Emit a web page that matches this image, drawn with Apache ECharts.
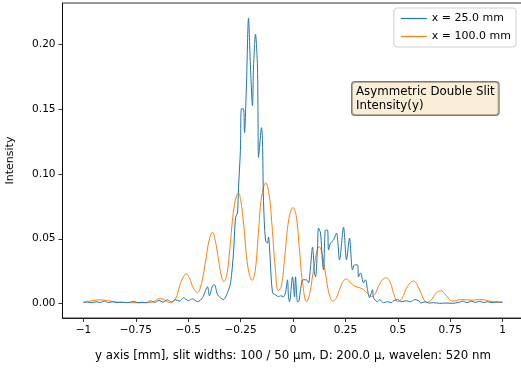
<!DOCTYPE html>
<html>
<head>
<meta charset="utf-8">
<script src="https://cdn.jsdelivr.net/npm/echarts@6/dist/echarts.min.js"></script>
<style>html,body{margin:0;padding:0;background:#fff;}#c{width:521px;height:370px;}</style>
</head>
<body>
<div id="c"></div>
<script>
const seriesNames = ['x = 25.0 mm', 'x = 100.0 mm'];
const xTicks = [-1, -0.75, -0.5, -0.25, 0, 0.25, 0.5, 0.75, 1];
const yTicks = [0, 0.05, 0.1, 0.15, 0.2];
const xLabel = 'y axis [mm], slit widths: 100 / 50 μm, D: 200.0 μ, wavelen: 520 nm';
const yLabel = 'Intensity';
const boxText = 'Asymmetric Double Slit\nIntensity(y)';

const blueX = [-1.00,-0.98,-0.96,-0.94,-0.92,-0.90,-0.88,-0.86,-0.84,-0.82,-0.80,-0.78,-0.76,-0.74,-0.72,-0.70,-0.68,-0.66,-0.64,-0.62,-0.60,-0.58,-0.56,-0.54,-0.523,-0.499,-0.480,-0.456,-0.432,-0.408,-0.399,-0.384,-0.375,-0.360,-0.346,-0.332,-0.313,-0.298,-0.284,-0.274,-0.265,-0.260,-0.251,-0.246,-0.2363,-0.2315,-0.2220,-0.2124,-0.2029,-0.1933,-0.1885,-0.1790,-0.1695,-0.1647,-0.1599,-0.1504,-0.1456,-0.1408,-0.1313,-0.1217,-0.1169,-0.1122,-0.0979,-0.0835,-0.0692,-0.0597,-0.0453,-0.0358,-0.0263,-0.0215,-0.0167,-0.0024,0.0072,0.0119,0.0215,0.0263,0.0358,0.0453,0.0501,0.0644,0.0740,0.0835,0.0931,0.1026,0.1074,0.1169,0.1217,0.1313,0.1408,0.1456,0.1551,0.1647,0.1695,0.1790,0.1933,0.2076,0.2220,0.2411,0.2554,0.2697,0.2840,0.2936,0.3079,0.3126,0.3222,0.3365,0.3461,0.3556,0.3652,0.3795,0.3842,0.4033,0.4129,0.4320,0.45,0.47,0.48,0.50,0.52,0.54,0.56,0.58,0.60,0.61,0.63,0.65,0.67,0.70,0.73,0.76,0.79,0.81,0.83,0.85,0.87,0.89,0.91,0.93,0.95,0.97,1.00];
const blueY = [0.0008,0.0012,0.0008,0.0015,0.0010,0.0020,0.0008,0.0015,0.0008,0.0012,0.0008,0.0010,0.0018,0.0008,0.0012,0.0008,0.0022,0.0010,0.0025,0.0012,0.0030,0.0015,0.0030,0.0020,0.0046,0.0023,0.0038,0.0015,0.0046,0.0130,0.0061,0.0138,0.0145,0.0069,0.0046,0.0031,0.0084,0.0161,0.0391,0.0666,0.0697,0.0896,0.1179,0.1501,0.1501,0.1317,0.1692,0.2198,0.1815,0.1524,0.1815,0.2075,0.1815,0.1126,0.1202,0.1355,0.1256,0.0796,0.0490,0.0467,0.0513,0.0436,0.0084,0.0069,0.0054,0.0061,0.0054,0.0084,0.0184,0.0054,0.0015,0.0207,0.0054,0.0207,0.0015,0.0015,0.0107,0.0184,0.0184,0.0184,0.0161,0.0283,0.0436,0.0237,0.0207,0.0429,0.0582,0.0544,0.0314,0.0260,0.0567,0.0567,0.0413,0.0467,0.0490,0.0544,0.0337,0.0590,0.0337,0.0505,0.0260,0.0299,0.0299,0.0207,0.0237,0.0161,0.0184,0.0107,0.0046,0.0107,0.0046,0.0015,0.0031,0.0008,0.0015,0.0008,0.0023,0.0031,0.0015,0.0023,0.0015,0.0031,0.0023,0.0005,0.0015,0.0005,0.0008,0.0003,0.0005,0.0003,0.0010,0.0020,0.0008,0.0020,0.0010,0.0018,0.0010,0.0015,0.0008,0.0015,0.0008];

const orangeX = [-1.00,-0.97,-0.94,-0.92,-0.90,-0.87,-0.84,-0.80,-0.76,-0.72,-0.69,-0.66,-0.64,-0.62,-0.60,-0.585,-0.56,-0.54,-0.525,-0.51,-0.495,-0.475,-0.456,-0.435,-0.415,-0.40,-0.385,-0.37,-0.355,-0.34,-0.33,-0.315,-0.30,-0.285,-0.27,-0.26,-0.25,-0.235,-0.215,-0.195,-0.18,-0.165,-0.15,-0.13,-0.115,-0.10,-0.085,-0.07,-0.055,-0.04,-0.02,0.00,0.015,0.03,0.045,0.065,0.08,0.10,0.125,0.14,0.16,0.175,0.19,0.205,0.225,0.24,0.255,0.275,0.295,0.315,0.335,0.355,0.375,0.39,0.41,0.43,0.445,0.465,0.48,0.50,0.52,0.545,0.575,0.60,0.625,0.64,0.66,0.685,0.705,0.73,0.76,0.78,0.80,0.83,0.86,0.89,0.92,0.95,0.98,1.00];
const orangeY = [0.0015,0.0020,0.0028,0.0030,0.0028,0.0020,0.0012,0.0010,0.0008,0.0007,0.0008,0.0020,0.0038,0.0035,0.0015,0.0008,0.0040,0.0140,0.0200,0.0230,0.0200,0.0120,0.0085,0.0170,0.0350,0.0490,0.0550,0.0480,0.0330,0.0200,0.0170,0.0230,0.0450,0.0700,0.0830,0.0850,0.0800,0.0600,0.0280,0.0180,0.0260,0.0550,0.0820,0.0930,0.0850,0.0600,0.0280,0.0100,0.0140,0.0350,0.0650,0.0740,0.0680,0.0430,0.0170,0.0015,0.0080,0.0280,0.0440,0.0380,0.0180,0.0060,0.0020,0.0040,0.0120,0.0175,0.0190,0.0160,0.0135,0.0125,0.0110,0.0080,0.0055,0.0070,0.0140,0.0190,0.0200,0.0160,0.0080,0.0015,0.0040,0.0130,0.0175,0.0120,0.0030,0.0010,0.0030,0.0085,0.0100,0.0065,0.0020,0.0025,0.0032,0.0030,0.0028,0.0032,0.0028,0.0015,0.0010,0.0015];

const zip = (xs, ys) => xs.map((x, i) => [x, ys[i]]);
const FONT = 'DejaVu Sans';
const fmtX = v => { const s = (Math.round(v * 100) / 100).toString(); return s.replace('-', '\u2212'); };

const chart = echarts.init(document.getElementById('c'), null, {renderer: 'canvas'});
chart.setOption({
  animation: false,
  backgroundColor: '#ffffff',
  textStyle: {fontFamily: FONT},
  grid: {left: 62.5, top: 3, width: 461, height: 315, show: false, containLabel: false, outerBoundsMode: 'none'},
  legend: {
    orient: 'vertical', right: 5, top: 8,
    data: seriesNames,
    icon: 'rect',
    itemWidth: 26, itemHeight: 1.2, itemGap: 5, itemTextGap: 8,
    padding: [4, 5, 4, 7],
    borderColor: '#d0d0d0', borderWidth: 1, borderRadius: 3,
    backgroundColor: 'rgba(255,255,255,0.8)',
    textStyle: {fontFamily: FONT, fontSize: 11, lineHeight: 13, color: '#000'}
  },
  xAxis: {
    type: 'value', min: -1.1, max: 1.1,
    name: xLabel, nameLocation: 'middle', nameGap: 32,
    nameTextStyle: {fontFamily: FONT, fontSize: 11.8, color: '#000'},
    axisLine: {show: true, onZero: false, lineStyle: {color: '#000', width: 0.8}},
    axisTick: {show: true, length: 4, lineStyle: {color: '#000', width: 0.8}, customValues: xTicks},
    axisLabel: {customValues: xTicks, formatter: fmtX, color: '#000', fontFamily: FONT, fontSize: 10.5, margin: 7},
    splitLine: {show: false}
  },
  yAxis: {
    type: 'value', min: -0.011, max: 0.2315,
    name: yLabel, nameLocation: 'middle', nameGap: 47, nameRotate: 90,
    nameTextStyle: {fontFamily: FONT, fontSize: 11, color: '#000'},
    axisLine: {show: true, onZero: false, lineStyle: {color: '#000', width: 0.8}},
    axisTick: {show: true, length: 4, lineStyle: {color: '#000', width: 0.8}, customValues: yTicks},
    axisLabel: {customValues: yTicks, formatter: v => v.toFixed(2), color: '#000', fontFamily: FONT, fontSize: 10.5, margin: 7},
    splitLine: {show: false}
  },
  series: [
    {name: seriesNames[0], type: 'line', data: zip(blueX, blueY), symbol: 'none', smooth: 0.3,
     lineStyle: {color: '#1f77b4', width: 1}, itemStyle: {color: '#1f77b4'}, z: 3},
    {name: seriesNames[1], type: 'line', data: zip(orangeX, orangeY), symbol: 'none', smooth: 0.4,
     lineStyle: {color: '#ff7f0e', width: 1}, itemStyle: {color: '#ff7f0e'}, z: 2}
  ],
  graphic: [
    {type: 'rect', z: 10, silent: true,
     shape: {x: 62.5, y: 3, width: 470, height: 315}, style: {fill: 'none', stroke: '#000', lineWidth: 0.8}},
    {type: 'text', left: 351, top: 81, z: 20,
     style: {text: boxText, fontFamily: FONT, fontSize: 11.8, lineHeight: 14, fill: '#000',
             backgroundColor: 'rgba(245,222,179,0.5)', borderColor: '#7a7a7a', borderWidth: 1,
             borderRadius: 3, padding: [3, 4, 2, 4]}}
  ]
});
</script>
</body>
</html>
